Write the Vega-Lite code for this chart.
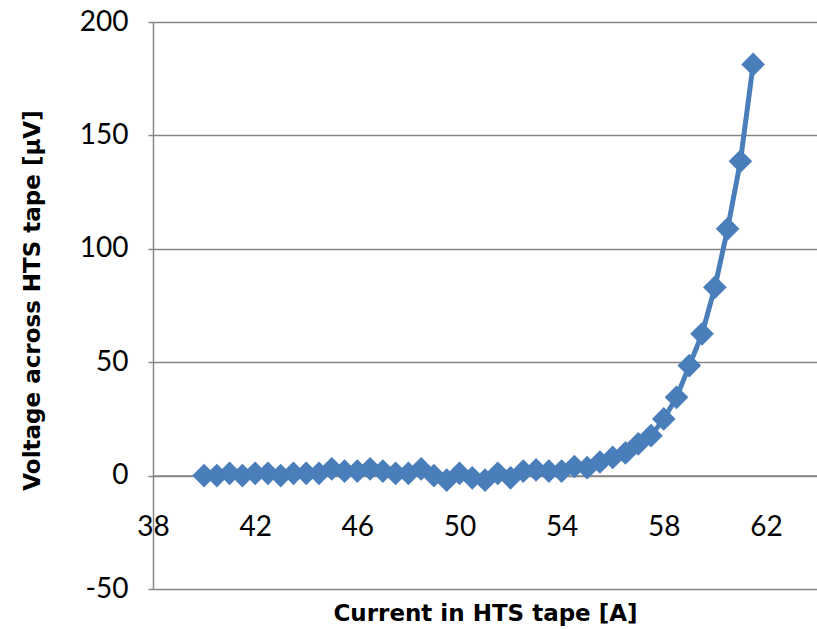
{
  "$schema": "https://vega.github.io/schema/vega-lite/v6.json",
  "autosize": "none",
  "padding": {"left": 153, "top": 22, "right": 0, "bottom": 40},
  "width": 664,
  "height": 567,
  "background": "white",
  "config": {
    "view": {"stroke": null},
    "font": "Lato",
    "axis": {"labelFont": "Lato", "titleFont": "DejaVu Sans", "labelColor": "#000000", "titleColor": "#000000"}
  },
  "data": {
    "values": [
      {"current": 40, "voltage": 0},
      {"current": 40.5, "voltage": 0},
      {"current": 41, "voltage": 1},
      {"current": 41.5, "voltage": 0},
      {"current": 42, "voltage": 1},
      {"current": 42.5, "voltage": 1},
      {"current": 43, "voltage": 0},
      {"current": 43.5, "voltage": 1},
      {"current": 44, "voltage": 1},
      {"current": 44.5, "voltage": 1},
      {"current": 45, "voltage": 3},
      {"current": 45.5, "voltage": 2},
      {"current": 46, "voltage": 2},
      {"current": 46.5, "voltage": 3},
      {"current": 47, "voltage": 2},
      {"current": 47.5, "voltage": 1},
      {"current": 48, "voltage": 1},
      {"current": 48.5, "voltage": 3},
      {"current": 49, "voltage": 0},
      {"current": 49.5, "voltage": -2},
      {"current": 50, "voltage": 1},
      {"current": 50.5, "voltage": -1},
      {"current": 51, "voltage": -2},
      {"current": 51.5, "voltage": 1},
      {"current": 52, "voltage": -1},
      {"current": 52.5, "voltage": 2},
      {"current": 53, "voltage": 2.5},
      {"current": 53.5, "voltage": 2},
      {"current": 54, "voltage": 2},
      {"current": 54.5, "voltage": 4},
      {"current": 55, "voltage": 3.5},
      {"current": 55.5, "voltage": 6},
      {"current": 56, "voltage": 8},
      {"current": 56.5, "voltage": 10},
      {"current": 57, "voltage": 14},
      {"current": 57.5, "voltage": 17.6},
      {"current": 58, "voltage": 25},
      {"current": 58.5, "voltage": 34.5},
      {"current": 59, "voltage": 48.5},
      {"current": 59.5, "voltage": 62.5},
      {"current": 60, "voltage": 83},
      {"current": 60.5, "voltage": 108.8},
      {"current": 61, "voltage": 138.6},
      {"current": 61.5, "voltage": 181.3}
    ]
  },
  "encoding": {
    "x": {
      "field": "current",
      "type": "quantitative",
      "scale": {"domain": [38, 64], "nice": false, "zero": false},
      "axis": {
        "title": "Current in HTS tape [A]",
        "values": [38, 42, 46, 50, 54, 58, 62],
        "offset": -113.4,
        "grid": false,
        "ticks": false,
        "domainColor": "#868686",
        "domainWidth": 1.5,
        "labelFlush": false,
        "labelFontSize": 28,
        "labelPadding": 38,
        "titleFontSize": 23,
        "titleFontWeight": "bold",
        "titleBaseline": "top",
        "titleY": 127,
        "titleX": 332
      }
    },
    "y": {
      "field": "voltage",
      "type": "quantitative",
      "scale": {"domain": [-50, 200], "nice": false, "zero": false},
      "axis": {
        "title": "Voltage across HTS tape [µV]",
        "values": [-50, 0, 50, 100, 150, 200],
        "labelExpr": "datum.value + ''",
        "grid": true,
        "gridColor": "#868686",
        "gridWidth": 1.5,
        "domainColor": "#868686",
        "domainWidth": 1.5,
        "tickColor": "#868686",
        "tickWidth": 1.5,
        "tickSize": 5,
        "labelFontSize": 28,
        "labelPadding": 20,
        "titleFontSize": 23,
        "titleFontWeight": "bold",
        "titleBaseline": "middle",
        "titleX": -121,
        "titleY": 278
      }
    }
  },
  "layer": [
    {"mark": {"type": "line", "color": "#4a7ebb", "strokeWidth": 5}},
    {"mark": {"type": "point", "shape": "diamond", "filled": true, "size": 560, "color": "#4a7ebb", "opacity": 1}}
  ]
}
